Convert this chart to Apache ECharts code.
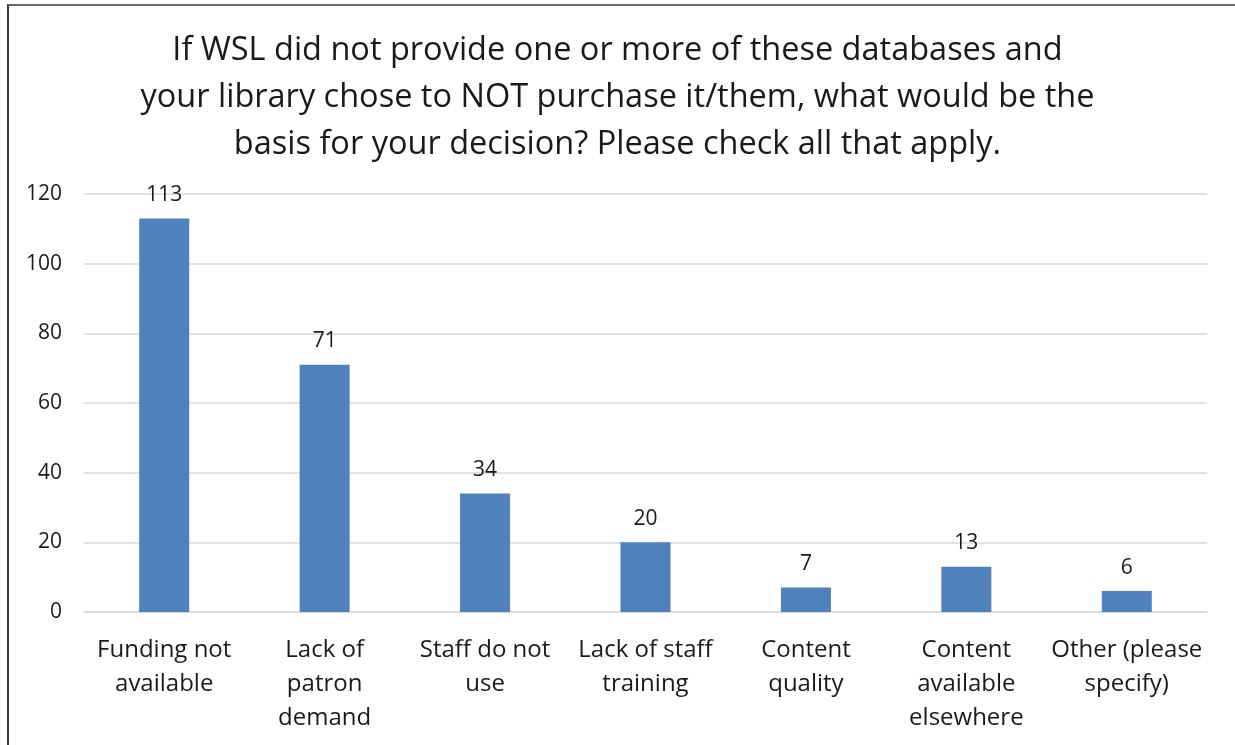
<!DOCTYPE html>
<html>
<head>
<meta charset="utf-8">
<script src="https://cdn.jsdelivr.net/npm/echarts@6/dist/echarts.min.js"></script>
<style>
  html, body { margin: 0; padding: 0; background: #fff; }
  #chart { position: absolute; left: 0; top: 0; width: 1235px; height: 745px; }
  #frame { position: absolute; left: 7px; top: 4px; width: 1226px; height: 745px;
           border-left: 2px solid #3a3a3a; border-top: 2px solid #6a6a6a; pointer-events: none; }
</style>
</head>
<body>
<div id="chart"></div>
<div id="frame"></div>
<script>
  // survey answers
  const categories = [
    'Funding not\navailable',
    'Lack of\npatron\ndemand',
    'Staff do not\nuse',
    'Lack of staff\ntraining',
    'Content\nquality',
    'Content\navailable\nelsewhere',
    'Other (please\nspecify)'
  ]
  const counts = [113, 71, 34, 20, 7, 13, 6]
  const yTicks = [0, 20, 40, 60, 80, 100, 120]

  const titleText = 'If WSL did not provide one or more of these databases and\n' +
    'your library chose to NOT purchase it/them, what would be the\n' +
    'basis for your decision? Please check all that apply.'

  const font = '"Open Sans", "Noto Sans", sans-serif'
  const chart = echarts.init(document.getElementById('chart'))

  chart.setOption({
    animation: false,
    title: {
      text: titleText,
      left: 'center',
      top: 22,
      textStyle: {
        fontFamily: font,
        fontSize: 32.5,
        fontWeight: 'normal',
        color: '#1a1a1a',
        lineHeight: 47
      }
    },
    grid: {
      left: 84,
      right: 28,
      top: 194,
      bottom: 133,
      containLabel: false
    },
    xAxis: {
      type: 'category',
      data: categories,
      axisTick: { show: false },
      axisLine: { lineStyle: { color: '#d9d9d9', width: 1.5 } },
      axisLabel: {
        interval: 0,
        margin: 21,
        fontFamily: font,
        fontSize: 24,
        lineHeight: 34,
        color: '#1a1a1a'
      }
    },
    yAxis: {
      type: 'value',
      min: yTicks[0],
      max: yTicks[yTicks.length - 1],
      interval: 20,
      axisLine: { show: false },
      axisTick: { show: false },
      splitLine: { lineStyle: { color: '#d9d9d9', width: 1.5 } },
      axisLabel: {
        margin: 22,
        fontFamily: font,
        fontSize: 21,
        color: '#1a1a1a'
      }
    },
    series: [
      {
        type: 'bar',
        data: counts,
        barWidth: 50,
        itemStyle: { color: '#4f81bd' },
        label: {
          show: true,
          position: 'top',
          distance: 13,
          fontFamily: font,
          fontSize: 21,
          color: '#1a1a1a'
        }
      }
    ]
  })
</script>
</body>
</html>
